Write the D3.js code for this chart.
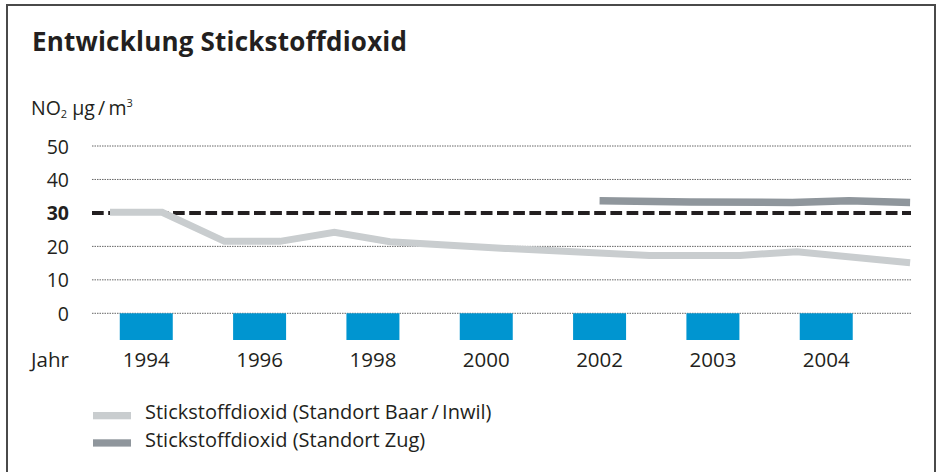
<!DOCTYPE html>
<html>
<head>
<meta charset="utf-8">
<script src="https://cdn.jsdelivr.net/npm/d3@7"></script>
<style>
  body { margin: 0; background: #fff; }
  svg text { font-family: "Open Sans", sans-serif; fill: #231f20; }
</style>
</head>
<body>
<svg id="chart" width="937" height="472"></svg>
<script>
// bar categories along the bottom
var years = ["1994", "1996", "1998", "2000", "2002", "2003", "2004"];
var yTicks = [0, 10, 20, 30, 40, 50];
var limitValue = 30;

// Baar/Inwil series: position in bar slots (0 = first bar) and value
var baarPos  = [-0.32, 0.14, 0.69, 1.18, 1.66, 2.15, 3.17, 4.44, 5.24, 5.74, 6.74];
var baarVals = [30.2, 30.2, 21.5, 21.5, 24.2, 21.4, 19.4, 17.3, 17.3, 18.4, 15.1];

// Zug series
var zugPos  = [4.0, 4.8, 5.7, 6.2, 6.74];
var zugVals = [33.6, 33.3, 33.1, 33.6, 33.1];

var legendLabels = ["Stickstoffdioxid (Standort Baar\u2009/\u2009Inwil)", "Stickstoffdioxid (Standort Zug)"];
var legendColors = ["#c9cdcf", "#8f969c"];

var svg = d3.select("#chart");

// frame
svg.append("rect")
   .attr("x", 7).attr("y", 5)
   .attr("width", 928).attr("height", 480)
   .attr("fill", "none")
   .attr("stroke", "#4a4a4a")
   .attr("stroke-width", 2);

svg.append("text")
   .attr("x", 32).attr("y", 51)
   .style("font-size", "26px")
   .style("font-weight", "bold")
   .style("letter-spacing", "0.2px")
   .text("Entwicklung Stickstoffdioxid");

// unit label with sub/superscripts
var unit = svg.append("text")
   .attr("x", 31).attr("y", 115)
   .style("font-size", "19.5px");
unit.append("tspan").text("NO");
unit.append("tspan").attr("dy", 3).style("font-size", "11px").text("2");
unit.append("tspan").attr("dy", -3).text(" \u00b5g\u2009/\u2009m");
unit.append("tspan").attr("dy", -8).style("font-size", "11px").text("3");

var gridLeft = 92, gridRight = 911;

var y = d3.scaleLinear().domain([0, 50]).range([313.3, 146]);

var xb = d3.scaleBand()
   .domain(years)
   .range([89.6, 882.9])
   .paddingInner(0.5324)
   .paddingOuter(0.2662);

var xs = d3.scaleLinear()
   .domain([0, years.length - 1])
   .range([xb(years[0]) + xb.bandwidth() / 2, xb(years[years.length - 1]) + xb.bandwidth() / 2]);

// gridlines
svg.append("g").selectAll("line")
   .data(yTicks.filter(function(d) { return d !== limitValue; }))
   .join("line")
   .attr("x1", gridLeft).attr("x2", gridRight)
   .attr("y1", function(d) { return y(d); })
   .attr("y2", function(d) { return y(d); })
   .attr("stroke", "#555")
   .attr("stroke-width", 0.9)
   .attr("stroke-dasharray", "1.5,1");

// y tick labels
var yAxis = svg.append("g")
   .attr("transform", "translate(69,0)")
   .call(d3.axisLeft(y).tickValues(yTicks).tickSize(0).tickPadding(0));
yAxis.select(".domain").remove();
yAxis.selectAll("text")
   .attr("dy", "0.36em")
   .style("font-family", "'Open Sans', sans-serif")
   .style("font-size", "19.5px")
   .style("font-weight", function(d) { return d === limitValue ? "bold" : "normal"; })
   .attr("fill", "#231f20");

// limit line
svg.append("line")
   .attr("x1", gridLeft).attr("x2", gridRight)
   .attr("y1", y(limitValue)).attr("y2", y(limitValue))
   .attr("stroke", "#231f20")
   .attr("stroke-width", 4)
   .attr("stroke-dasharray", "11.7,4.5");

var line = d3.line()
   .x(function(d) { return xs(d[0]); })
   .y(function(d) { return y(d[1]); });

svg.append("path")
   .datum(d3.zip(baarPos, baarVals))
   .attr("d", line)
   .attr("fill", "none")
   .attr("stroke", legendColors[0])
   .attr("stroke-width", 7);

svg.append("path")
   .datum(d3.zip(zugPos, zugVals))
   .attr("d", line)
   .attr("fill", "none")
   .attr("stroke", legendColors[1])
   .attr("stroke-width", 7.5);

// year blocks
svg.append("g").selectAll("rect")
   .data(years)
   .join("rect")
   .attr("x", function(d) { return xb(d); })
   .attr("y", y(0))
   .attr("width", xb.bandwidth())
   .attr("height", 26.7)
   .attr("fill", "#0095d0");

var xAxis = svg.append("g")
   .attr("transform", "translate(0,352)")
   .call(d3.axisBottom(xb).tickSize(0).tickPadding(0));
xAxis.select(".domain").remove();
xAxis.selectAll("text")
   .attr("dy", "0.72em")
   .style("font-family", "'Open Sans', sans-serif")
   .style("font-size", "20.5px")
   .attr("fill", "#231f20");

svg.append("text")
   .attr("x", 31).attr("y", 367)
   .style("font-size", "20.5px")
   .text("Jahr");

// legend
var leg = svg.append("g").selectAll("g")
   .data(legendLabels)
   .join("g")
   .attr("transform", function(d, i) { return "translate(93," + (412 + i * 27.3) + ")"; });
leg.append("rect")
   .attr("width", 38).attr("height", 7.3)
   .attr("fill", function(d, i) { return legendColors[i]; });
leg.append("text")
   .attr("x", 52).attr("y", 7.3)
   .style("font-size", "20px")
   .text(function(d) { return d; });
</script>
</body>
</html>
